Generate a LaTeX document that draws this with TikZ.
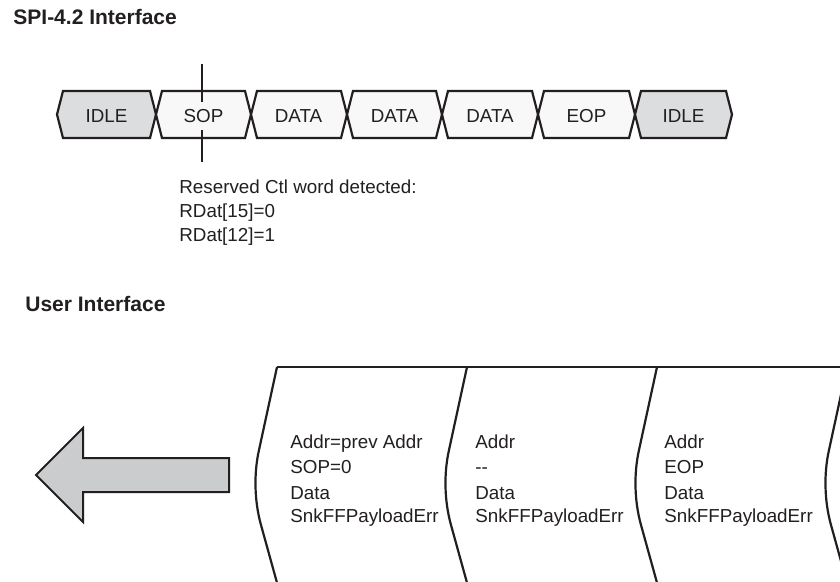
\documentclass[tikz,border=0pt]{standalone}
\usepackage{fontspec}
\setmainfont{Liberation Sans}
\definecolor{ink}{RGB}{35,31,32}
\definecolor{idlefill}{RGB}{220,221,223}
\definecolor{wordfill}{RGB}{248,248,248}
\definecolor{arrowfill}{RGB}{203,204,206}
\tikzset{
  wordline/.style={draw=ink, line width=1.1pt, line join=miter},
  lbl/.style={font=\fontsize{9.4}{11}\selectfont, text=ink, inner sep=0pt},
  heading/.style={font=\fontsize{10.5}{12}\selectfont\bfseries, text=ink,
    inner sep=0pt, anchor=base west},
  txt/.style={lbl, anchor=base west},
}
\begin{document}
\begin{tikzpicture}[x=0.5pt,y=-0.5pt]
\clip (0,0) rectangle (840,582);
\fill[white] (0,0) rectangle (840,582);

% ---- SPI-4.2 bus words ----
\node[heading] (spiTitle) at (13,25) {SPI-4.2 Interface};
\foreach \a/\b/\f in {57/156/idlefill, 156/251/wordfill, 251/347/wordfill,
                      347/442/wordfill, 442/538/wordfill, 538/635/wordfill,
                      635/732/idlefill}{
  \filldraw[fill=\f, wordline] (\a,114.5) -- ({\a+6},91) -- ({\b-6},91)
     -- (\b,114.5) -- ({\b-6},138) -- ({\a+6},138) -- cycle;
}
% marker through the SOP word
\coordinate (markTop) at (202,64);
\coordinate (markBot) at (202,162);
\draw[ink, line width=1.1pt] (markTop) -- (markBot);

\foreach \c/\t/\n in {106.5/IDLE/wIdleA, 298.5/DATA/wDataA, 394.5/DATA/wDataB,
                      490/DATA/wDataC, 586.5/EOP/wEop, 683.5/IDLE/wIdleB}{
  \node[lbl, anchor=base] (\n) at (\c,122.5) {\t};
}
\node[lbl, anchor=base, fill=wordfill, inner ysep=3.6pt, inner xsep=0pt]
  (wSop) at (203.5,122.5) {SOP};

\node[txt] (note1) at (179,194) {Reserved Ctl word detected:};
\node[txt] (note2) at (179,218) {RDat[15]=0};
\node[txt] (note3) at (179,242) {RDat[12]=1};

% ---- user interface cycles ----
\node[heading] (userTitle) at (25,312) {User Interface};

\filldraw[fill=arrowfill, draw=ink, line width=1pt, line join=miter]
  (36,475) -- (83,428) -- (83,458) -- (229,458) -- (229,492)
  -- (83,492) -- (83,522) -- cycle;

\draw[wordline] (277,367) -- (860,367);
\foreach \x in {277,467,657,847}{
  \draw[wordline] (\x,367) -- ({\x-18},450)
    .. controls ({\x-23},472) and ({\x-23},500) .. ({\x-16},525)
    -- ({\x+2},590);
}

\node[txt] (c1a) at (290,448) {Addr=prev Addr};
\node[txt] (c1b) at (290,473) {SOP=0};
\node[txt] (c1c) at (290,499) {Data};
\node[txt] (c1d) at (290,522) {SnkFFPayloadErr};

\node[txt] (c2a) at (475,448) {Addr};
\node[txt] (c2b) at (475,473) {-{}-};
\node[txt] (c2c) at (475,499) {Data};
\node[txt] (c2d) at (475,522) {SnkFFPayloadErr};

\node[txt] (c3a) at (664,448) {Addr};
\node[txt] (c3b) at (664,473) {EOP};
\node[txt] (c3c) at (664,499) {Data};
\node[txt] (c3d) at (664,522) {SnkFFPayloadErr};
\end{tikzpicture}
\end{document}
